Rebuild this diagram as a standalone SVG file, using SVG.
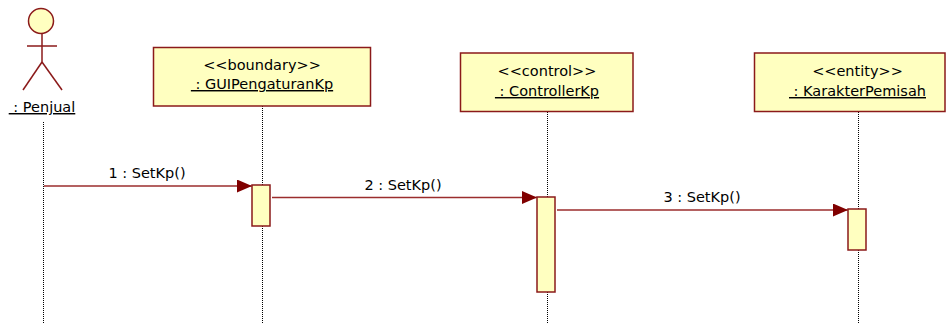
<svg xmlns="http://www.w3.org/2000/svg" width="947" height="323" viewBox="0 0 947 323">
<style>
  .box{fill:#FFFFC0;stroke:#8B1A1A;stroke-width:1.5}
  .act{fill:#FFFFC0;stroke:#8B1A1A;stroke-width:1.5}
  .life{stroke:#000;stroke-width:1;stroke-dasharray:1 1;fill:none}
  .actor{stroke:#8B1A1A;stroke-width:1.5;fill:none}
  .head{fill:#FFFFC0;stroke:#8B1A1A;stroke-width:1.5}
  .msg{stroke:#9B2D2D;stroke-width:1.5;fill:none}
  .t{font-family:"DejaVu Sans",Verdana,sans-serif;font-size:14.5px;fill:#000;text-anchor:middle}
  .u{text-decoration:underline}
</style>
<defs>
  <marker id="arrow" markerWidth="15" markerHeight="13" refX="15" refY="6.5" orient="auto" markerUnits="userSpaceOnUse">
    <path d="M0,0 L15,6.5 L0,13 Z" fill="#800000"/>
  </marker>
</defs>
<rect width="947" height="323" fill="#fff"/>

<g id="lifelines">
  <line class="life" x1="43.5" y1="122" x2="43.5" y2="323"/>
  <line class="life" x1="262.5" y1="106" x2="262.5" y2="323"/>
  <line class="life" x1="547.5" y1="112" x2="547.5" y2="323"/>
  <line class="life" x1="858.5" y1="112" x2="858.5" y2="323"/>
</g>

<g id="penjual">
  <circle class="head" cx="41" cy="21" r="12.5"/>
  <line class="actor" x1="42" y1="33.5" x2="42" y2="62"/>
  <line class="actor" x1="27" y1="46" x2="57" y2="46"/>
  <line class="actor" x1="42" y1="62" x2="23" y2="90"/>
  <line class="actor" x1="42" y1="62" x2="62" y2="90"/>
  <text class="t u" x="42" y="112" xml:space="preserve"> : Penjual</text>
</g>

<g id="gui">
  <rect class="box" x="153.5" y="47.5" width="217" height="58.5"/>
  <text class="t" x="262" y="70">&lt;&lt;boundary&gt;&gt;</text>
  <text class="t u" x="262" y="89" xml:space="preserve"> : GUIPengaturanKp</text>
  <rect class="act" x="252" y="185" width="18" height="41"/>
</g>

<g id="controller">
  <rect class="box" x="460.5" y="53" width="172.5" height="58.5"/>
  <text class="t" x="547" y="76">&lt;&lt;control&gt;&gt;</text>
  <text class="t u" x="547" y="96" xml:space="preserve"> : ControllerKp</text>
  <rect class="act" x="537" y="197" width="18" height="95"/>
</g>

<g id="karakter">
  <rect class="box" x="754.5" y="53" width="190.5" height="58.5"/>
  <text class="t" x="857.5" y="76">&lt;&lt;entity&gt;&gt;</text>
  <text class="t u" x="857.5" y="96" xml:space="preserve"> : KarakterPemisah</text>
  <rect class="act" x="848" y="209" width="18" height="41"/>
</g>

<g id="connectors">
  <line class="msg" x1="44" y1="186" x2="252" y2="186" marker-end="url(#arrow)"/>
  <text class="t" x="147" y="178">1 : SetKp()</text>
  <line class="msg" x1="272" y1="197.5" x2="537" y2="197.5" marker-end="url(#arrow)"/>
  <text class="t" x="403" y="190">2 : SetKp()</text>
  <line class="msg" x1="557" y1="210" x2="848" y2="210" marker-end="url(#arrow)"/>
  <text class="t" x="702" y="202">3 : SetKp()</text>
</g>
</svg>
